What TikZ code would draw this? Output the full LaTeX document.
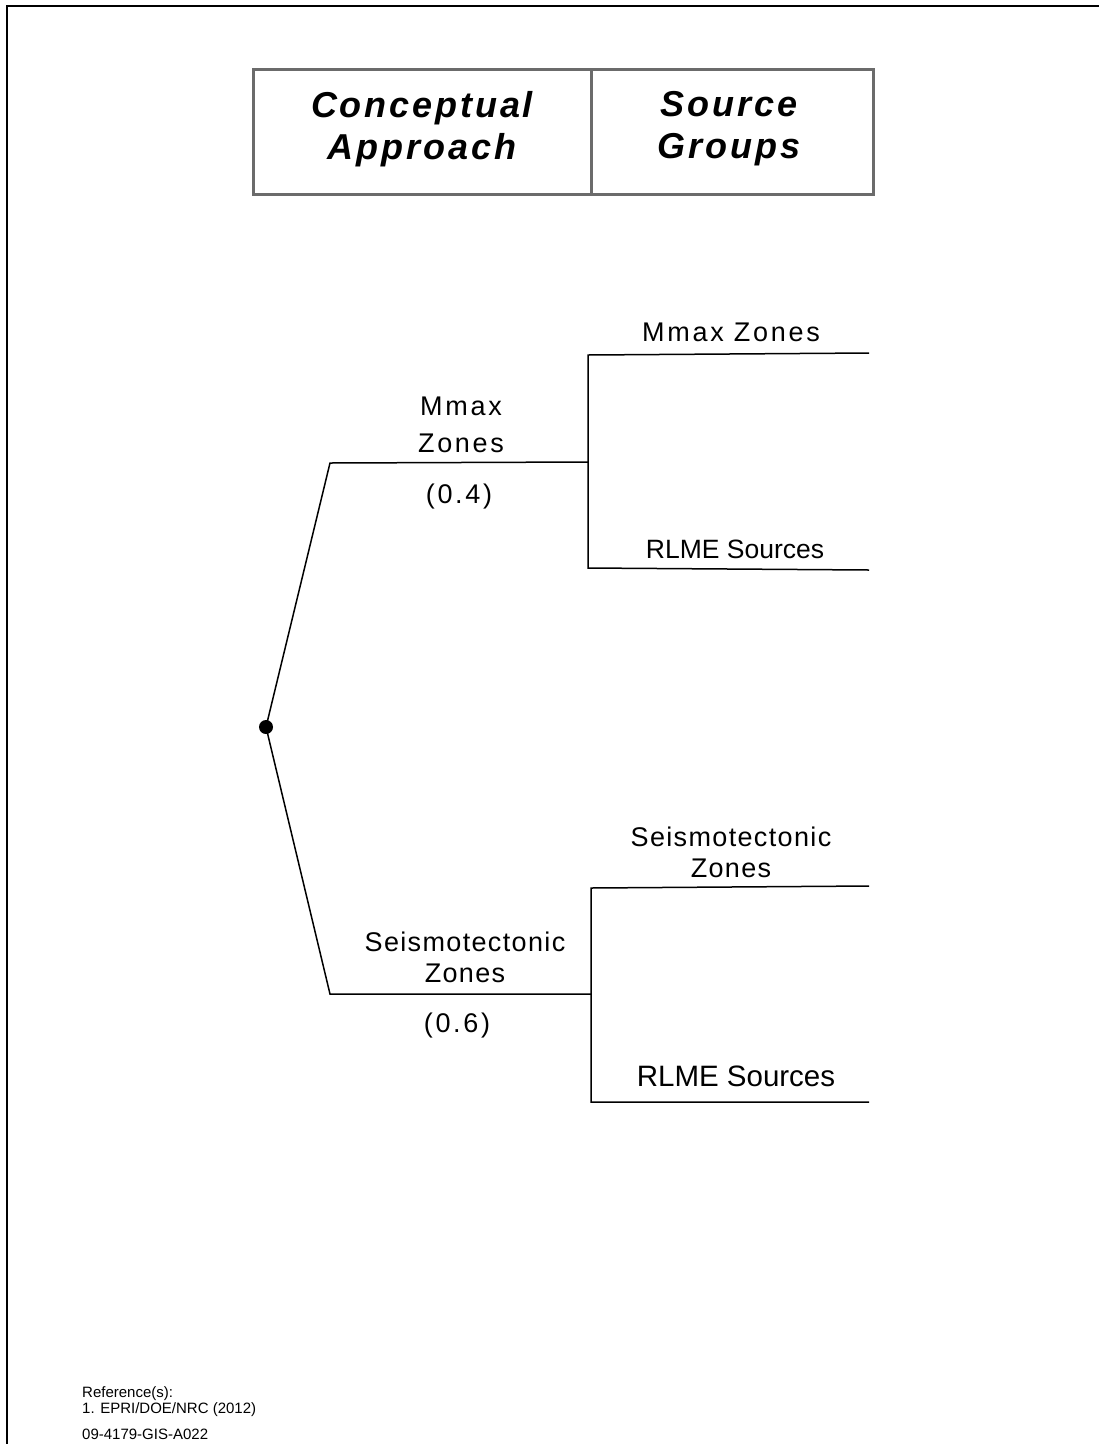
\documentclass[tikz,border=0pt]{standalone}
\usepackage{fontspec}
\setmainfont{Liberation Sans}
\newfontfamily\hdrfont[LetterSpace=8]{Liberation Sans}
\newfontfamily\lspfont[LetterSpace=10]{Liberation Sans}
\newfontfamily\lsnfont[LetterSpace=5]{Liberation Sans}
\begin{document}
\begin{tikzpicture}[x=1pt,y=-1pt,
  treeline/.style={line width=1.5pt,black},
  hdrbox/.style={draw=black!58,line width=3pt},
  hdrtext/.style={align=center,font=\hdrfont\bfseries\itshape\fontsize{36}{42}\selectfont,inner sep=0pt},
  lbl/.style={anchor=base,inner sep=0pt,font=\lspfont\fontsize{27}{30}\selectfont},
  lbln/.style={anchor=base,inner sep=0pt,font=\lsnfont\fontsize{27}{30}\selectfont},
  plainlbl/.style={anchor=base,inner sep=0pt,font=\fontsize{26.5}{30}\selectfont},
  biglbl/.style={anchor=base,inner sep=0pt,font=\fontsize{29.5}{32}\selectfont},
  reftext/.style={anchor=base west,inner sep=0pt,font=\fontsize{15}{17}\selectfont}]
\useasboundingbox (0,0) rectangle (1099,1444);
% frame (top and left)
\draw[line width=2.5pt] (7,1444) -- (7,6) -- (1099,6);
% header
\draw[hdrbox] (253,69) rectangle (873,194);
\draw[hdrbox] (591,69) -- (591,194);
\node[hdrtext] (h1) at (422,129) {Conceptual\\Approach};
\node[hdrtext] (h2) at (729,129) {Source\\Groups};
% tree nodes
\coordinate (root) at (266,727);
\coordinate (a1) at (330,463);
\coordinate (a2) at (588,462);
\coordinate (a3) at (588,355);
\coordinate (a4) at (869,353);
\coordinate (a5) at (588,568);
\coordinate (a6) at (869,570);
\coordinate (b1) at (330,994);
\coordinate (b2) at (591,994);
\coordinate (b3) at (591,888);
\coordinate (b4) at (869,886);
\coordinate (b5) at (591,1102);
\coordinate (b6) at (869,1102);
\draw[treeline] (root) -- (a1) -- (a2);
\draw[treeline] (a4) -- (a3) -- (a5) -- (a6);
\draw[treeline] (root) -- (b1) -- (b2);
\draw[treeline] (b4) -- (b3) -- (b5) -- (b6);
\fill (root) circle[radius=7];
% labels
\node[lbl] (l1) at (461,415) {Mmax};
\node[lbl] (l2) at (461,452) {Zones};
\node[lbl] (l3) at (459,503) {(0.4)};
\node[lbl] (l4) at (731,341) {Mmax Zones};
\node[plainlbl] (l5) at (735,558) {RLME Sources};
\node[lbln] (m1) at (465,951) {Seismotectonic};
\node[lbln] (m2) at (465,982) {Zones};
\node[lbl] (m3) at (457,1032) {(0.6)};
\node[lbln] (m4) at (731,846) {Seismotectonic};
\node[lbln] (m5) at (731,877) {Zones};
\node[biglbl] (m6) at (736,1086) {RLME Sources};
% references
\node[reftext] (r1) at (82,1397) {Reference(s):};
\node[reftext] (r2) at (82,1413) {1. EPRI/DOE/NRC (2012)};
\node[reftext] (r3) at (82,1439) {09-4179-GIS-A022};
\end{tikzpicture}
\end{document}
